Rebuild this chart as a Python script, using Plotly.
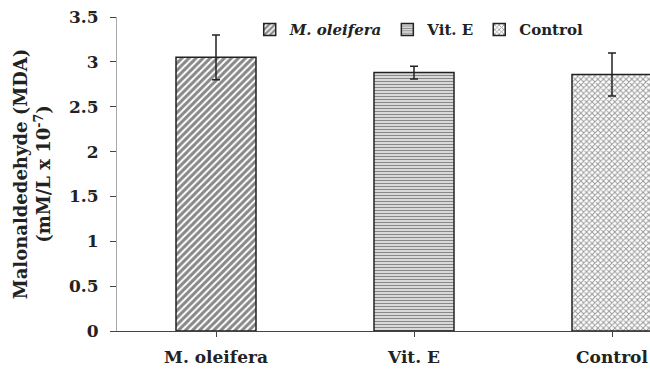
import plotly.graph_objects as go

categories = ["M. oleifera", "Vit. E", "Control"]
legend_names = ["<i>M. oleifera</i>", "Vit. E", "Control"]
values = [3.05, 2.88, 2.86]
errors = [0.25, 0.07, 0.24]
y_ticks = [0, 0.5, 1, 1.5, 2, 2.5, 3, 3.5]

patterns = [
    dict(shape="/", size=5, solidity=0.6, fgcolor="#111", bgcolor="white"),
    dict(shape="-", size=3, solidity=0.55, fgcolor="#111", bgcolor="white"),
    dict(shape="x", size=4, solidity=0.45, fgcolor="#333", bgcolor="white"),
]

FONT = "DejaVu Serif"
CAT_W = 198
LEFT = 117
fig = go.Figure()
for i, c in enumerate(categories):
    fig.add_trace(go.Bar(
        x=[i], y=[values[i]], name=legend_names[i], width=0.404,
        marker=dict(color="white", pattern=patterns[i],
                    line=dict(color="#222", width=1.5)),
        error_y=dict(type="data", array=[errors[i]], color="#222",
                     thickness=1.5, width=4),
    ))

fig.update_layout(
    width=650, height=369,
    margin=dict(l=LEFT, r=0, t=17, b=38),
    plot_bgcolor="white", paper_bgcolor="white",
    barmode="overlay",
    font=dict(family=FONT, size=17, color="#222", weight="bold"),
    legend=dict(orientation="h", x=0.249, y=0.959, xanchor="left", yanchor="middle",
                font=dict(size=15, family=FONT, weight="bold"),
                bgcolor="rgba(0,0,0,0)", itemwidth=30),
    showlegend=True,
)
fig.update_xaxes(
    range=[-0.5, (650 - LEFT) / CAT_W - 0.5],
    tickmode="array", tickvals=[0, 1, 2], ticktext=categories,
    tickson="boundaries", ticks="outside", ticklen=5, tickcolor="#444",
    showline=True, linecolor="#444", linewidth=1.2,
    showgrid=False, zeroline=False, automargin=False,
    ticklabelstandoff=5,
    tickfont=dict(size=17, family=FONT, weight="bold"),
)
fig.update_yaxes(
    range=[0, 3.5], tickvals=y_ticks,
    ticks="outside", ticklen=6, tickcolor="#444",
    showline=True, linecolor="#aaa", linewidth=1.2,
    showgrid=False, zeroline=False, automargin=False,
    ticklabelstandoff=8,
    tickfont=dict(size=17, family=FONT, weight="bold"),
    title=dict(text="Malonaldedehyde (MDA)<br>(mM/L x 10<sup>-7</sup>)",
               font=dict(size=18, family=FONT, weight="bold"), standoff=13),
)
fig.write_html("out.html", config={"displayModeBar": False},
               post_script="document.body.style.margin='0';")
